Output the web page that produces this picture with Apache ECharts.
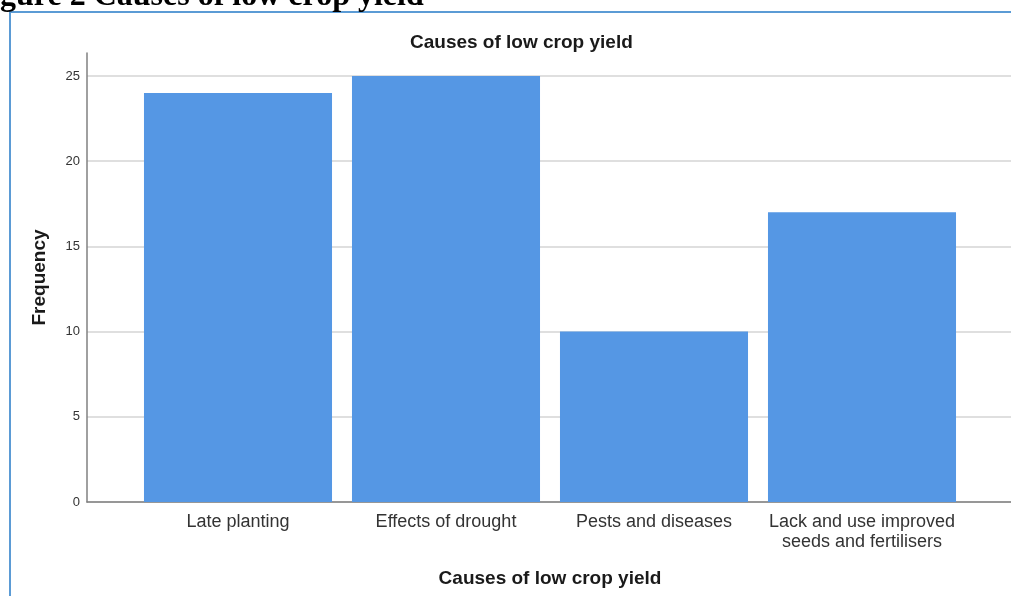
<!DOCTYPE html>
<html>
<head>
<meta charset="utf-8">
<script src="https://cdn.jsdelivr.net/npm/echarts@6/dist/echarts.min.js"></script>
<style>html,body{margin:0;padding:0;background:#fff;}#c{width:1011px;height:596px;}</style>
</head>
<body>
<div id="c"></div>
<script>
var categories = ['Late planting', 'Effects of drought', 'Pests and diseases', 'Lack and use improved\nseeds and fertilisers'];
var frequency = [24, 25, 10, 17];
var yTicks = [0, 5, 10, 15, 20, 25];

var chart = echarts.init(document.getElementById('c'));
var sans = 'Liberation Sans, Arial, sans-serif';
chart.setOption({
  backgroundColor: '#ffffff',
  animation: false,
  title: {
    text: 'Causes of low crop yield',
    left: 405, top: 28,
    textStyle: {fontFamily: sans, fontSize: 19, fontWeight: 'bold', color: '#1a1a1a'}
  },
  graphic: [
    {type: 'rect', shape: {x: 10, y: 12, width: 1100, height: 700},
     style: {fill: 'none', stroke: '#5b9bd5', lineWidth: 2}, z: 10},
    {type: 'text', x: 0, y: 12.5,
     style: {text: 'gure 2 Causes of low crop yield', font: 'bold 32px "Liberation Serif", "Times New Roman", serif',
       fill: '#000', textVerticalAlign: 'bottom', verticalAlign: 'bottom'}, z: 10}
  ],
  grid: [
    {left: 87, right: 0, top: 53, bottom: 94},
    {left: 87, right: 0, top: 76, bottom: 94},
    {left: 134, right: 45, top: 76, bottom: 94}
  ],
  xAxis: [
    {gridIndex: 0, type: 'value', min: 0, max: 1, axisLine: {show: true, lineStyle: {color: '#808080', width: 1.5}},
     axisTick: {show: false}, axisLabel: {show: false}, splitLine: {show: false}},
    {gridIndex: 1, type: 'value', min: 0, max: 1, show: false},
    {gridIndex: 2, type: 'category', data: categories,
     axisLine: {show: false}, axisTick: {show: false},
     axisLabel: {interval: 0, margin: 10, fontFamily: sans, fontSize: 18, color: '#333', lineHeight: 20},
     name: 'Causes of low crop yield', nameLocation: 'middle', nameGap: 67,
     nameTextStyle: {fontFamily: sans, fontSize: 19, fontWeight: 'bold', color: '#1a1a1a'}}
  ],
  yAxis: [
    {gridIndex: 0, type: 'value', min: 0, max: 26.35,
     axisLine: {show: true, lineStyle: {color: '#808080', width: 1.5}},
     axisTick: {show: false}, axisLabel: {show: false}, splitLine: {show: false},
     name: 'Frequency', nameLocation: 'middle', nameGap: 38, nameRotate: 90,
     nameTextStyle: {fontFamily: sans, fontSize: 19, fontWeight: 'bold', color: '#1a1a1a'}},
    {gridIndex: 1, type: 'value', min: yTicks[0], max: yTicks[yTicks.length - 1], interval: 5,
     axisLine: {show: false}, axisTick: {show: false},
     axisLabel: {margin: 7, fontFamily: sans, fontSize: 13, color: '#333'},
     splitLine: {show: true, lineStyle: {color: '#d4d4d4', width: 1.5}}},
    {gridIndex: 2, type: 'value', min: yTicks[0], max: yTicks[yTicks.length - 1], show: false}
  ],
  series: [{
    type: 'bar', xAxisIndex: 2, yAxisIndex: 2, data: frequency,
    barCategoryGap: '9.6%', itemStyle: {color: '#5597e4'}
  }]
});
</script>
</body>
</html>
